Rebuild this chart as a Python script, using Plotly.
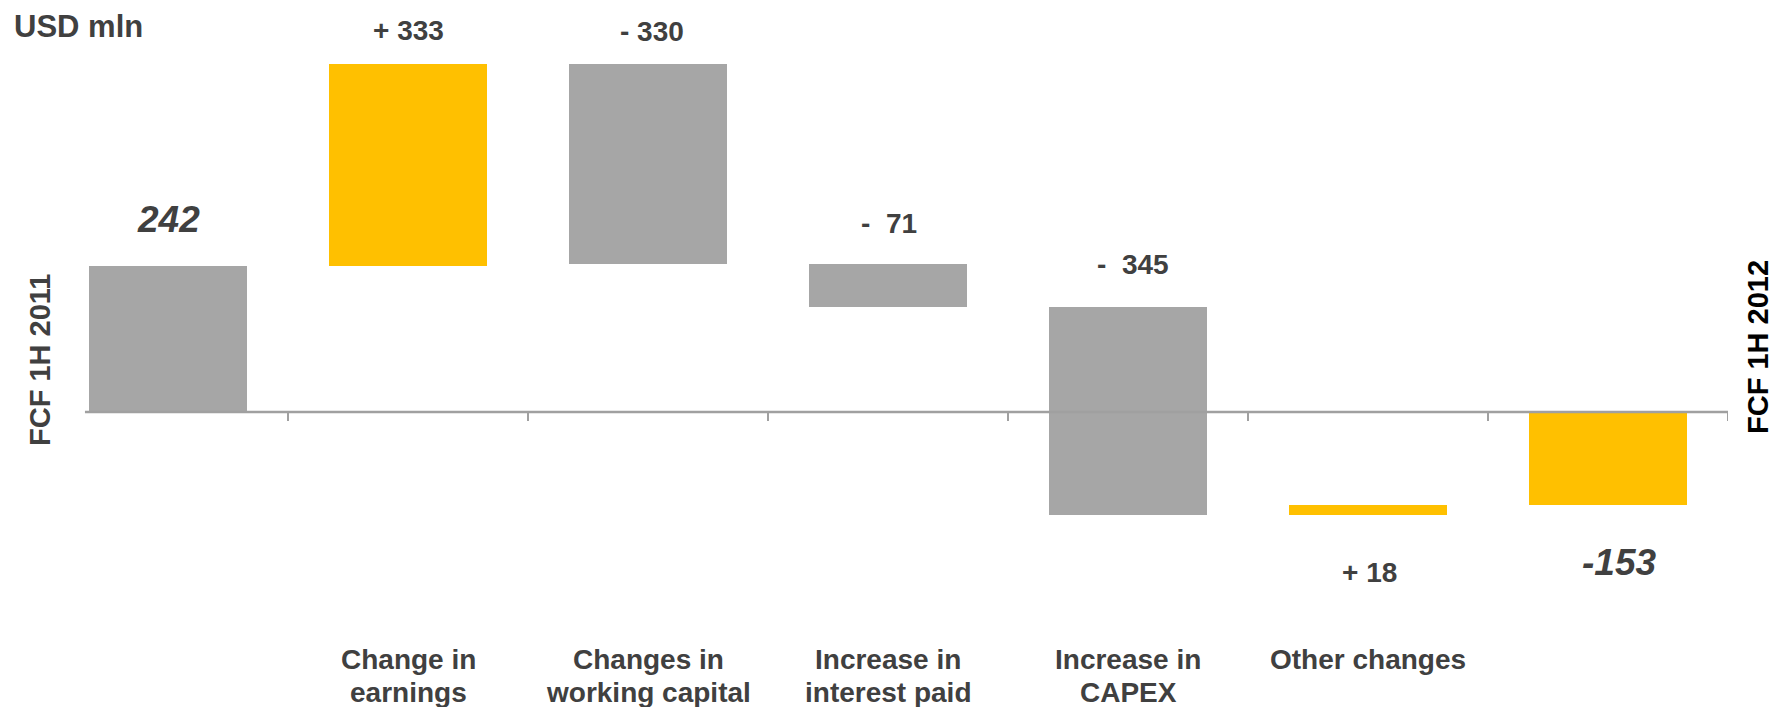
import plotly.graph_objects as go

# ---- data ----
categories = ["FCF 1H 2011", "Change in earnings", "Changes in working capital",
              "Increase in interest paid", "Increase in CAPEX", "Other changes", "FCF 1H 2012"]
start_value = 242
changes = [333, -330, -71, -345, 18]
end_value = -153
value_labels = ["242", "+ 333", "- 330", "-\u00a0 71", "-\u00a0 345", "+ 18", "-153"]
cat_lines = [None, ["Change in", "earnings"], ["Changes in", "working capital"],
             ["Increase in", "interest paid"], ["Increase in", "CAPEX"], ["Other changes"], None]

GREY = "#A6A6A6"
YELLOW = "#FFC000"
TXT = "#404040"
FONT = "Arial, Liberation Sans, sans-serif"

W, H = 1775, 707
ML, MR = 48, 47
PW = W - ML - MR


def px_x(p):
    return (p - ML) / PW


def px_y(p):
    return 1 - p / H


# build waterfall geometry from the data
bases, heights, colors = [0], [start_value], [GREY]
level = start_value
for c in changes:
    bases.append(level)
    heights.append(c)
    colors.append(YELLOW if c > 0 else GREY)
    level += c
bases.append(0)
heights.append(end_value)
colors.append(YELLOW)

xs = list(range(len(categories)))

fig = go.Figure()
fig.add_trace(go.Bar(
    x=xs, y=heights, base=bases, width=0.658,
    marker=dict(color=colors, line=dict(width=0)),
    hoverinfo="skip", showlegend=False,
))

# value labels (pixel offsets from bar end)
label_shift = [46, 34, 33, 40, 42, -57, -58]
label_xshift = [0, 0, 4, 1, 5, 1, 11]
for i in xs:
    top = bases[i] + heights[i]
    lo = min(bases[i], top)
    hi = max(bases[i], top)
    anchor_y = hi if label_shift[i] > 0 else lo
    big = i in (0, len(xs) - 1)
    fig.add_annotation(
        x=i, y=anchor_y, xref="x", yref="y", text=value_labels[i],
        showarrow=False, yanchor="middle", xanchor="center",
        yshift=label_shift[i], xshift=label_xshift[i],
        font=dict(family=FONT, size=37 if big else 28, color=TXT,
                  weight="bold", style="italic" if big else "normal"),
    )

# category labels, two lines each
line_y_px = [659, 692]
for i, lines in enumerate(cat_lines):
    if not lines:
        continue
    for j, t in enumerate(lines):
        fig.add_annotation(
            x=i, y=px_y(line_y_px[j]), xref="x", yref="paper", text=t,
            showarrow=False, yanchor="middle", xanchor="center",
            font=dict(family=FONT, size=28, color=TXT, weight="bold"),
        )

# rotated side labels
fig.add_annotation(x=px_x(40), y=px_y(360), xref="paper", yref="paper", text=categories[0],
                   textangle=-90, showarrow=False, xanchor="center", yanchor="middle",
                   font=dict(family=FONT, size=29, color=TXT, weight="bold"))
fig.add_annotation(x=px_x(1758), y=px_y(347), xref="paper", yref="paper", text=categories[-1],
                   textangle=-90, showarrow=False, xanchor="center", yanchor="middle",
                   font=dict(family=FONT, size=29, color="#000000", weight="bold"))

# unit label
fig.add_annotation(x=px_x(12), y=px_y(27), xref="paper", yref="paper", text="USD mln",
                   showarrow=False, xanchor="left", yanchor="middle",
                   font=dict(family=FONT, size=31, color=TXT, weight="bold"))

# baseline axis and tick marks
shapes = [dict(type="line", xref="x", yref="y", x0=-0.346, x1=6.5, y0=0, y1=0,
               line=dict(color="#A0A0A0", width=2.5))]
for k in range(len(categories)):
    b = k + 0.5
    shapes.append(dict(type="line", xref="x", yref="y", x0=b, x1=b, y0=0, y1=-15,
                       line=dict(color="#A0A0A0", width=2)))
fig.update_layout(shapes=shapes)

fig.update_layout(
    width=W, height=H,
    margin=dict(l=ML, r=MR, t=0, b=0),
    paper_bgcolor="white", plot_bgcolor="white",
    xaxis=dict(range=[-0.5, 6.5], visible=False, fixedrange=True),
    yaxis=dict(range=[-487.6, 681.0], visible=False, fixedrange=True),
    showlegend=False, bargap=0,
)

fig.write_html("out.html", config={"displayModeBar": False})
